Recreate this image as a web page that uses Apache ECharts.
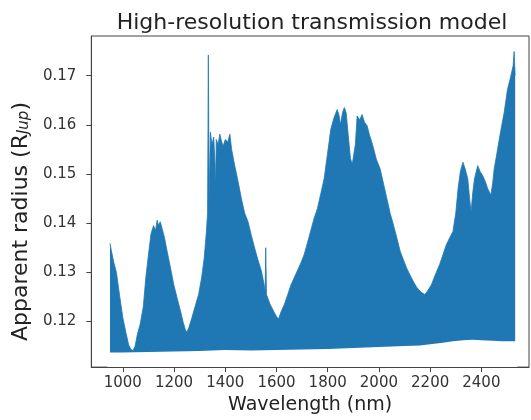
<!DOCTYPE html>
<html>
<head>
<meta charset="utf-8">
<title>High-resolution transmission model</title>
<script src="https://cdn.jsdelivr.net/npm/echarts@6/dist/echarts.min.js"></script>
<style>
    html, body { margin: 0; padding: 0; background: #fff; }
    #chart { width: 531px; height: 420px; }
</style>
</head>
<body>
<div id="chart"></div>
<script>
// upper envelope of the spectrum (nm, R_Jup)
var wavelength = [950, 955, 965, 975, 985, 1000, 1012, 1023, 1032, 1040, 1048, 1057, 1068, 1080, 1090,
    1100, 1110, 1120, 1128, 1134, 1140, 1146, 1153, 1163, 1173, 1186, 1199, 1212, 1225, 1236, 1244,
    1250, 1258, 1270, 1283, 1296, 1308, 1318, 1326, 1331, 1334, 1337, 1342, 1348, 1355, 1360, 1362,
    1365, 1372, 1379, 1386, 1392, 1400, 1410, 1418, 1425, 1437, 1450, 1463, 1476, 1489, 1502, 1515,
    1528, 1541, 1550, 1556, 1558, 1561, 1575, 1592, 1600, 1608, 1618, 1631, 1644, 1657, 1670, 1683,
    1696, 1708, 1721, 1734, 1747, 1760, 1773, 1786, 1799, 1812, 1825, 1837, 1844, 1850, 1858, 1865,
    1872, 1880, 1889, 1896, 1902, 1908, 1915, 1925, 1934, 1944, 1954, 1963, 1975, 1990, 2005, 2018,
    2031, 2044, 2057, 2070, 2083, 2096, 2108, 2121, 2134, 2147, 2160, 2170, 2179, 2190, 2205, 2220,
    2237, 2250, 2263, 2276, 2289, 2300, 2309, 2318, 2328, 2337, 2347, 2354, 2360, 2366, 2373, 2380,
    2386, 2395, 2405, 2415, 2425, 2437, 2444, 2450, 2460, 2470, 2480, 2489, 2502, 2515, 2524, 2528, 2532];
var radiusUpper = [0.1359, 0.1345, 0.1320, 0.1300, 0.1262, 0.1208, 0.1178, 0.1152, 0.1143, 0.1141, 0.1150, 0.1174, 0.1195, 0.1230, 0.1290,
    0.1335, 0.1378, 0.1395, 0.1385, 0.1406, 0.1395, 0.1403, 0.1390, 0.1370, 0.1343, 0.1310, 0.1275, 0.1248, 0.1222, 0.1198, 0.1184,
    0.1178, 0.1188, 0.1208, 0.1232, 0.1255, 0.1290, 0.1330, 0.1380, 0.1420, 0.1742, 0.1450, 0.1585, 0.1560, 0.1575, 0.1520, 0.1470,
    0.1570, 0.1560, 0.1581, 0.1565, 0.1557, 0.1570, 0.1565, 0.1581, 0.1550, 0.1517, 0.1485, 0.1450, 0.1420, 0.1403, 0.1375, 0.1349,
    0.1325, 0.1303, 0.1280, 0.1262, 0.1350, 0.1255, 0.1235, 0.1218, 0.1210, 0.1205, 0.1220, 0.1235, 0.1255, 0.1275, 0.1290, 0.1305,
    0.1320, 0.1336, 0.1360, 0.1385, 0.1410, 0.1430, 0.1460, 0.1490, 0.1540, 0.1591, 0.1615, 0.1631, 0.1620, 0.1600, 0.1625, 0.1635,
    0.1625, 0.1580, 0.1531, 0.1520, 0.1517, 0.1560, 0.1618, 0.1610, 0.1621, 0.1605, 0.1598, 0.1580, 0.1560, 0.1530, 0.1510, 0.1480,
    0.1450, 0.1420, 0.1396, 0.1370, 0.1343, 0.1325, 0.1309, 0.1295, 0.1282, 0.1270, 0.1262, 0.1258, 0.1255, 0.1262, 0.1275, 0.1295,
    0.1316, 0.1336, 0.1356, 0.1370, 0.1383, 0.1420, 0.1470, 0.1505, 0.1524, 0.1510, 0.1490, 0.1450, 0.1423, 0.1460, 0.1490, 0.1505,
    0.1517, 0.1505, 0.1497, 0.1485, 0.1470, 0.1457, 0.1480, 0.1510, 0.1540, 0.1571, 0.1600, 0.1625, 0.1672, 0.1699, 0.1720, 0.1749, 0.1700];

// lower envelope of the spectrum
var wavelengthLow = [940, 1000, 1100, 1200, 1300, 1400, 1500, 1600, 1700, 1800, 1900, 2000, 2100, 2160,
    2200, 2250, 2289, 2330, 2367, 2400, 2444, 2480, 2514, 2540];
var radiusLower = [0.1137, 0.1137, 0.1138, 0.1139, 0.1140, 0.1142, 0.1141, 0.1142, 0.1143, 0.1144, 0.1146, 0.1148, 0.1150, 0.1151,
    0.1154, 0.1157, 0.1160, 0.1162, 0.1163, 0.1162, 0.1161, 0.1160, 0.1160, 0.1160];

// tick labels
var xTicks = [1000, 1200, 1400, 1600, 1800, 2000, 2200, 2400];
var yTicks = [0.12, 0.13, 0.14, 0.15, 0.16, 0.17];

var font = 'DejaVu Sans';
var axisColor = '#444';

function pairs(xs, ys) {
    var out = [];
    for (var i = 0; i < xs.length; i++) {
        out.push([xs[i], ys[i]]);
    }
    return out;
}

var chart = echarts.init(document.getElementById('chart'), null, { renderer: 'canvas' });

var option = {
    animation: false,
    backgroundColor: '#fff',
    title: {
        text: 'High-resolution transmission model',
        left: 307,
        textAlign: 'center',
        top: 7,
        textStyle: { fontFamily: font, fontSize: 22, fontWeight: 'normal', color: '#222' }
    },
    grid: {
        left: 85, right: 2, top: 36, bottom: 50,
        show: true,
        borderColor: axisColor,
        borderWidth: 1
    },
    xAxis: {
        type: 'value',
        min: 877,
        max: 2586,
        z: 10,
        name: 'Wavelength (nm)',
        nameLocation: 'middle',
        nameGap: 28,
        nameTextStyle: { fontFamily: font, fontSize: 19, color: '#222' },
        axisLine: { show: true, lineStyle: { color: axisColor, width: 1 } },
        axisTick: { show: true, length: 5, lineStyle: { color: axisColor }, customValues: xTicks },
        axisLabel: {
            fontFamily: font, fontSize: 15, color: '#333', margin: 9,
            customValues: xTicks,
            formatter: function (v) { return String(v); }
        },
        splitLine: { show: false }
    },
    yAxis: {
        type: 'value',
        min: 0.11073,
        max: 0.17806,
        z: 10,
        name: '{a|Apparent radius (R}{sub|Jup}{end|)}',
        nameLocation: 'middle',
        nameGap: 50,
        nameRotate: 90,
        nameTextStyle: {
            fontFamily: font, fontSize: 22, color: '#222',
            rich: {
                a: { fontFamily: font, fontSize: 22, color: '#222', lineHeight: 22, verticalAlign: 'top' },
                sub: { fontFamily: font, fontSize: 15, fontStyle: 'italic', color: '#222', lineHeight: 15, padding: [9, 0, 0, 0], verticalAlign: 'bottom' },
                // trailing room pushes the label down, as in the picture
                end: { fontFamily: font, fontSize: 22, color: '#222', lineHeight: 22, verticalAlign: 'top', padding: [0, 40, 0, 0] }
            }
        },
        axisLine: { show: true, lineStyle: { color: axisColor, width: 1 } },
        axisTick: { show: true, length: 5, lineStyle: { color: axisColor }, customValues: yTicks },
        axisLabel: {
            fontFamily: font, fontSize: 15, color: '#333', margin: 15,
            customValues: yTicks,
            formatter: function (v) { return v.toFixed(2); }
        },
        splitLine: { show: false }
    },
    series: [
        {
            // spectrum, filled down to the axis
            name: 'upper',
            type: 'line',
            data: pairs(wavelength, radiusUpper),
            showSymbol: false,
            symbol: 'none',
            lineStyle: { color: '#1f77b4', width: 0.8 },
            areaStyle: { color: '#1f77b4', opacity: 1, origin: 'start' },
            z: 2
        },
        {
            // blank out everything below the lower envelope
            name: 'lower',
            type: 'line',
            data: pairs(wavelengthLow, radiusLower),
            showSymbol: false,
            symbol: 'none',
            lineStyle: { color: '#fff', width: 0 },
            areaStyle: { color: '#fff', opacity: 1, origin: 'start' },
            z: 3
        }
    ]
};

chart.setOption(option);
</script>
</body>
</html>
